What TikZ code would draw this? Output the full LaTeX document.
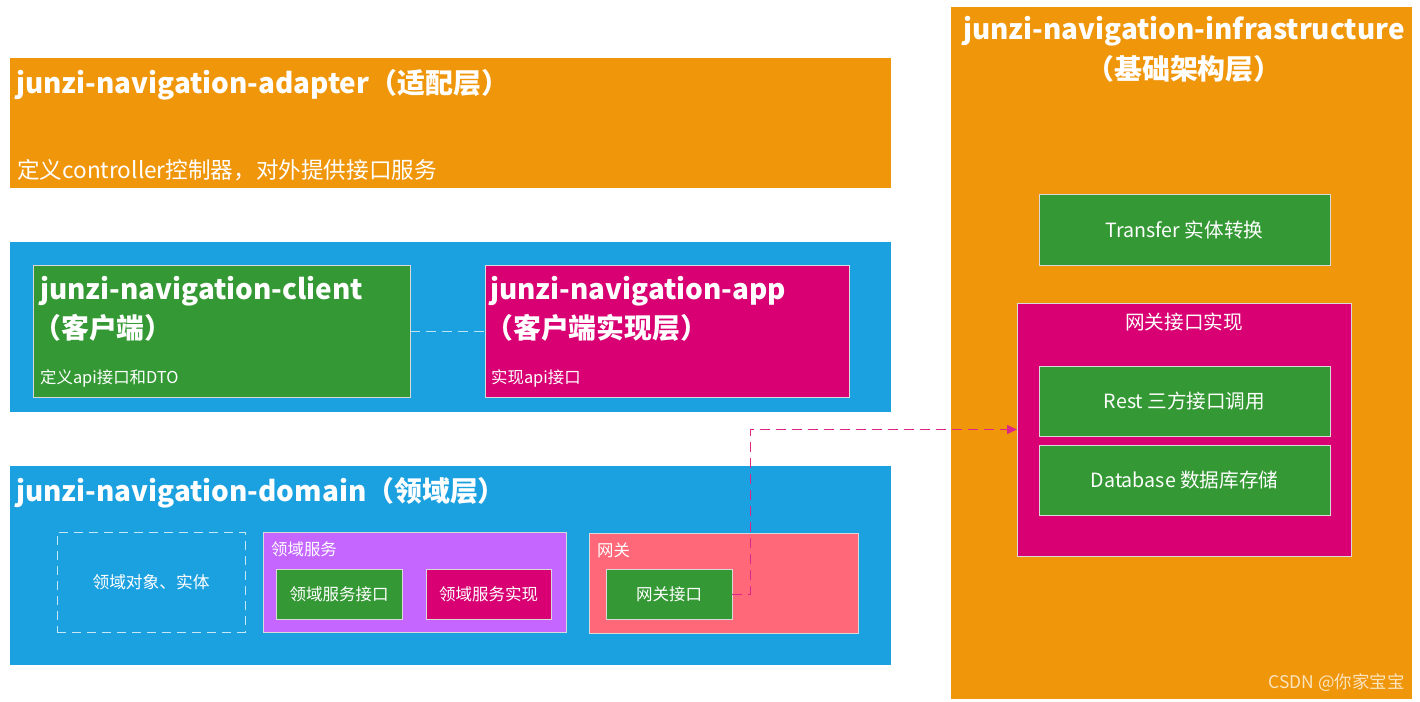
\documentclass[tikz,border=0pt]{standalone}
\usepackage{fontspec}
\setmainfont{Noto Sans CJK SC}
\usetikzlibrary{arrows.meta}
\definecolor{layerorange}{RGB}{240,150,10}
\definecolor{layerblue}{RGB}{28,161,224}
\definecolor{modgreen}{RGB}{52,153,52}
\definecolor{modmagenta}{RGB}{216,0,115}
\definecolor{modviolet}{RGB}{196,102,255}
\definecolor{modsalmon}{RGB}{255,104,120}
\definecolor{markgray}{RGB}{250,228,190}

\begin{document}
\begin{tikzpicture}[x=1pt,y=-1pt]
      \tikzset{layer/.style={anchor=north west,inner sep=0pt,outer sep=0pt},
        box/.style={anchor=north west,inner sep=0pt,outer sep=0pt,draw=white!85!black,line width=0.8pt},
        ttl/.style={anchor=base west,inner sep=0pt,text=white,font=\bfseries\fontsize{27.9}{32}\selectfont},
        note/.style={anchor=base west,inner sep=0pt,text=white,font=\fontsize{22.6}{26}\selectfont},
        small/.style={anchor=base west,inner sep=0pt,text=white,font=\fontsize{16.4}{20}\selectfont},
        inner/.style={box,text=white,font=\fontsize{19.6}{22}\selectfont}}
      \useasboundingbox[fill=white] (0,0) rectangle (1420,701);
      % adapter
      \node[layer,fill=layerorange,minimum width=881pt,minimum height=130pt] (adapter) at (10,58) {};
      \node[ttl] (adapterT) at (16,93) {junzi-navigation-adapter（适配层）};
      \node[note] (adapterN) at (17,178) {定义controller控制器，对外提供接口服务};
      % client
      \node[layer,fill=layerblue,minimum width=881pt,minimum height=170pt] (clientL) at (10,242) {};
      \node[box,fill=modgreen,minimum width=377pt,minimum height=132pt] (client) at (33,265) {};
      \node[ttl] (clientT) at (40,299) {junzi-navigation-client};
      \node[ttl] (clientT2) at (33,338) {（客户端）};
      \node[small] (clientN) at (40,383) {定义api接口和DTO};
      \node[box,fill=modmagenta,minimum width=364pt,minimum height=132pt] (app) at (485,265) {};
      \node[ttl] (appT) at (490,299) {junzi-navigation-app};
      \node[ttl] (appT2) at (485,338) {（客户端实现层）};
      \node[small] (appN) at (491,383) {实现api接口};
      \draw[white!70!layerblue,line width=1pt,dash pattern=on 10pt off 6pt] (client.east) -- (app.west);
      % domain
      \node[layer,fill=layerblue,minimum width=881pt,minimum height=199pt] (domain) at (10,466) {};
      \node[ttl] (domainT) at (16,501) {junzi-navigation-domain（领域层）};
      \node[box,draw=white!75!layerblue,dash pattern=on 9pt off 6pt,minimum width=188pt,minimum height=100pt,text=white,font=\fontsize{16.7}{20}\selectfont] (entity) at (57,532) {领域对象、实体};
      \node[box,fill=modviolet,minimum width=303pt,minimum height=100pt] (service) at (263,532) {};
      \node[small] (serviceT) at (271,555) {领域服务};
      \node[inner,fill=modgreen,minimum width=126pt,minimum height=50pt,font=\fontsize{16.5}{20}\selectfont] (serviceI) at (276,569) {领域服务接口};
      \node[inner,fill=modmagenta,minimum width=125pt,minimum height=50pt,font=\fontsize{16.5}{20}\selectfont] (serviceImpl) at (426,569) {领域服务实现};
      \node[box,fill=modsalmon,minimum width=269pt,minimum height=100pt] (gateway) at (589,533) {};
      \node[small] (gatewayT) at (597,556) {网关};
      \node[inner,fill=modgreen,minimum width=126pt,minimum height=50pt,font=\fontsize{16.5}{20}\selectfont] (gatewayI) at (606,569) {网关接口};
      % infrastructure
      \node[layer,fill=layerorange,minimum width=461pt,minimum height=692pt] (infra) at (951,7) {};
      \node[ttl,anchor=base] (infraT) at (1184,40) {junzi-navigation-infrastructure};
      \node[ttl,anchor=base] (infraT2) at (1184,79) {（基础架构层）};
      \node[inner,fill=modgreen,minimum width=291pt,minimum height=71pt] (transfer) at (1039,194) {Transfer 实体转换};
      \node[box,fill=modmagenta,minimum width=334pt,minimum height=253pt] (gatewayImpl) at (1017,303) {};
      \node[small,anchor=base,font=\fontsize{19.6}{22}\selectfont] (gatewayImplT) at (1184,329) {网关接口实现};
      \node[inner,fill=modgreen,minimum width=291pt,minimum height=70pt] (rest) at (1039,366) {Rest 三方接口调用};
      \node[inner,fill=modgreen,minimum width=291pt,minimum height=70pt] (db) at (1039,445) {Database 数据库存储};
      \draw[modmagenta!85!white,line width=1pt,dash pattern=on 10pt off 6pt,-{Triangle[length=10pt,width=9pt]}] (gatewayI.east) -- ++(18,0) |- (gatewayImpl.west);
      \node[small,anchor=base east,text=markgray,font=\fontsize{17.5}{20}\selectfont] (mark) at (1405,688) {CSDN @你家宝宝};
    \end{tikzpicture}
\end{document}
